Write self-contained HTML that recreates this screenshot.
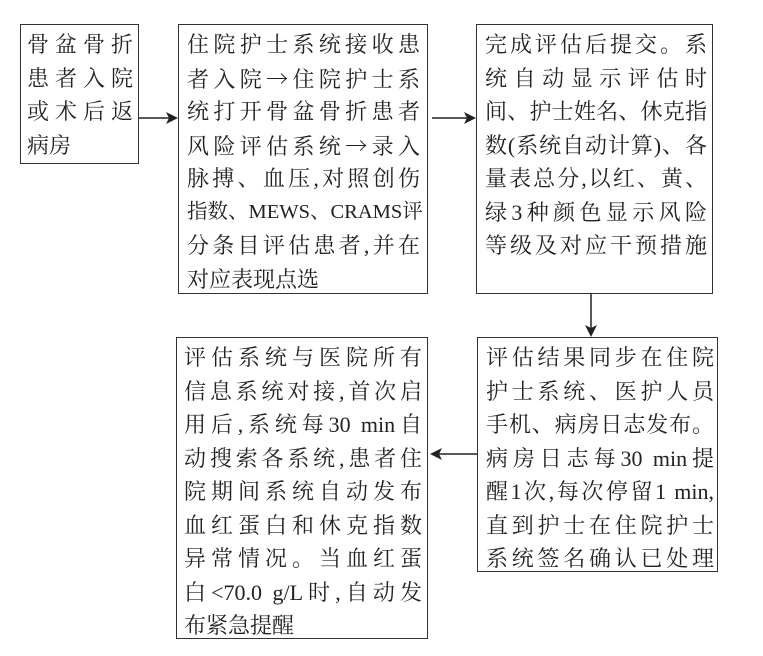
<!DOCTYPE html>
<html><head><meta charset="utf-8"><style>
body{margin:0;width:763px;height:656px;background:#fff;position:relative;overflow:hidden;font-family:"Liberation Serif","Noto Serif CJK SC",serif;color:#222}
.b{position:absolute;border:1.5px solid #333;box-sizing:border-box}
.t{position:absolute;font-size:22px;line-height:33.5px}
.t div{text-align:justify;text-align-last:justify;white-space:nowrap;height:33.5px}
.t div.l{text-align-last:left}
.c{font-family:"Noto Serif CJK SC",serif}
.s{font-size:20.5px}
</style></head><body>
<div class="b" style="left:20px;top:24px;width:119px;height:140px"></div>
<div class="t" style="left:27px;top:28px;width:106px">
<div>骨盆骨折</div><div>患者入院</div><div>或术后返</div><div class="l">病房</div></div>

<div class="b" style="left:178px;top:24px;width:250px;height:270px"></div>
<div class="t" style="left:187px;top:28px;width:233px">
<div>住院护士系统接收患</div><div>者入院<span class="c">→</span>住院护士系</div><div>统打开骨盆骨折患者</div><div>风险评估系统<span class="c">→</span>录入</div><div>脉搏、血压,对照创伤</div><div class="s">指数、MEWS、CRAMS评</div><div>分条目评估患者,并在</div><div class="l">对应表现点选</div></div>

<div class="b" style="left:476px;top:24px;width:237px;height:270px"></div>
<div class="t" style="left:485px;top:28px;width:222px">
<div>完成评估后提交。系</div><div>统自动显示评估时</div><div>间、护士姓名、休克指</div><div>数(系统自动计算)、各</div><div>量表总分,以红、黄、</div><div>绿3种颜色显示风险</div><div>等级及对应干预措施</div></div>

<div class="b" style="left:477px;top:337px;width:241px;height:235px"></div>
<div class="t" style="left:486px;top:341px;width:228px">
<div>评估结果同步在住院</div><div>护士系统、医护人员</div><div>手机、病房日志发布。</div><div>病房日志每30 min提</div><div>醒1次,每次停留1 min,</div><div>直到护士在住院护士</div><div>系统签名确认已处理</div></div>

<div class="b" style="left:176px;top:337px;width:252px;height:302px"></div>
<div class="t" style="left:184px;top:341px;width:238px">
<div>评估系统与医院所有</div><div>信息系统对接,首次启</div><div>用后,系统每30 min自</div><div>动搜索各系统,患者住</div><div>院期间系统自动发布</div><div>血红蛋白和休克指数</div><div>异常情况。当血红蛋</div><div>白&lt;70.0 g/L时,自动发</div><div class="l">布紧急提醒</div></div>

<svg width="763" height="656" style="position:absolute;left:0;top:0">
<g stroke="#222" stroke-width="1.5" fill="#222">
<line x1="139" y1="118" x2="172" y2="118"/><path d="M178 118 L166 112 L169 118 L166 124Z" stroke="none"/>
<line x1="432" y1="118" x2="470" y2="118"/><path d="M476 118 L464 112 L467 118 L464 124Z" stroke="none"/>
<line x1="591" y1="294" x2="591" y2="331"/><path d="M591 337 L585 325 L591 328 L597 325Z" stroke="none"/>
<line x1="477" y1="454" x2="436" y2="454"/><path d="M430 454 L442 448 L439 454 L442 460Z" stroke="none"/>
</g></svg>
</body></html>
